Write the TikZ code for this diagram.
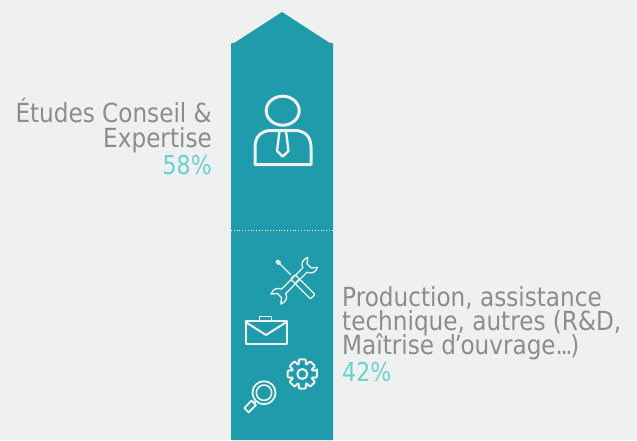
\documentclass[tikz,border=0pt]{standalone}
\usepackage{fontspec}
\setmainfont{DejaVu Sans}[FakeStretch=0.88]
\newfontfamily\pctfont{DejaVu Sans}[FakeStretch=0.85]
\definecolor{bgc}{HTML}{EFF1F1}
\definecolor{tealc}{HTML}{1F9BAC}
\definecolor{graytxt}{HTML}{8A8C8E}
\definecolor{pct}{HTML}{6CCFD0}
\tikzset{
 lbl/.style={inner sep=0pt,text=graytxt,font=\fontsize{26.3}{26.3}\selectfont},
 pctl/.style={inner sep=0pt,text=pct,font=\pctfont\fontsize{26}{26}\selectfont},
 icon/.style={draw=bgc,line width=3pt,line join=round,line cap=round},
 thin icon/.style={draw=bgc,line width=1.3pt,line join=round,line cap=round}
}
\begin{document}
\begin{tikzpicture}[x=1pt,y=-1pt]
\fill[bgc] (0,0) rectangle (637,440);
\useasboundingbox (0,0) rectangle (637,440);
\fill[tealc] (231,440) -- (231,43.5) -- (235,42.5) -- (282,12) -- (329,42.5) -- (333,43.5) -- (333,440) -- cycle;
\coordinate (dl) at (231,230.5);
\coordinate (dr) at (333,230.5);
\draw[white,line width=0.8pt,dotted] (dl) -- (dr);
% labels
\node[lbl,anchor=base east] (a1) at (212,122) {Études Conseil \&};
\node[lbl,anchor=base east] (a2) at (212,147) {Expertise};
\node[pctl,anchor=base east] (a3) at (212,174) {58\%};
\node[lbl,anchor=base west] (b1) at (342,306) {Production, assistance};
\node[lbl,anchor=base west] (b2) at (342,330) {technique, autres (R\&D,};
\node[lbl,anchor=base west] (b3) at (342,354) {Maîtrise d\kern-1.5pt’\kern-1.5pt ouvrage.\kern-2.5pt.\kern-2.5pt.\kern-2.5pt)};
\node[pctl,anchor=base west] (b4) at (342,381) {42\%};
% person
\draw[icon] (282.7,110.7) ellipse [x radius=16.5, y radius=14.5];
\draw[icon] (255,164.5) -- (255,147) .. controls (255,136) and (262,130.5) .. (271,130.5) -- (295,130.5) .. controls (304,130.5) and (311,136) .. (311,147) -- (311,164.5) -- cycle;
\draw[icon,line width=2.4pt] (279.5,131) -- (277,151) -- (282.7,156.5) -- (288.5,151) -- (286,131);
% tools
\begin{scope}[shift={(295,279)},rotate=-45]
 \draw[thin icon] (-25.5,0) -- (-6,0);
 \draw[thin icon] (-25.5,-1.4) -- (-22,-1.4) -- (-22,1.4) -- (-25.5,1.4) -- cycle;
 \draw[thin icon,rounded corners=1pt] (-3,-3.2) rectangle (25,3.2);
 \draw[thin icon] (3,-3.2) -- (3,3.2);
\end{scope}
\begin{scope}[shift={(295,280)},rotate=45]
 \draw[thin icon] (-16,-3) -- (14,-3) (-16,3) -- (14,3);
 \draw[thin icon] (14,-3) .. controls (16,-8) and (20,-9) .. (25,-7) -- (20,-3) -- (20,3) -- (25,7) .. controls (20,9) and (16,8) .. (14,3);
 \draw[thin icon] (-16,-3) .. controls (-18,-8) and (-22,-9) .. (-27,-7) -- (-22,-3) -- (-22,3) -- (-27,7) .. controls (-22,9) and (-18,8) .. (-16,3);
\end{scope}
% briefcase
\draw[icon,line width=2pt] (245.5,320.5) rectangle (286.5,344);
\draw[icon,line width=2pt] (245.5,322) -- (266,335) -- (286.5,322);
\draw[icon,line width=1.7pt] (259.5,320) -- (259.5,316.5) -- (271.5,316.5) -- (271.5,320);
% gear
\begin{scope}[shift={(302.3,374)}]
 \draw[icon,line width=2pt] (0,0) circle (5);
 \draw[icon,line width=2pt,rounded corners=1pt] (-14:15)
  \foreach \a in {0,45,...,315} {
   -- (\a-14:15) -- (\a+14:15) -- (\a+19:10.5) -- (\a+26:10.5)
  } -- cycle;
\end{scope}
% magnifier
\draw[icon,line width=1.8pt] (264,392.7) circle (11.5);
\draw[icon,line width=1.6pt] (264,392.7) circle (7.7);
\draw[icon,line width=1.8pt] (256,401) -- (254,403);
\draw[icon,line width=1.8pt] (251.5,400.5) -- (244.5,408) -- (248.5,412.5) -- (256,405) -- cycle;
\end{tikzpicture}
\end{document}
